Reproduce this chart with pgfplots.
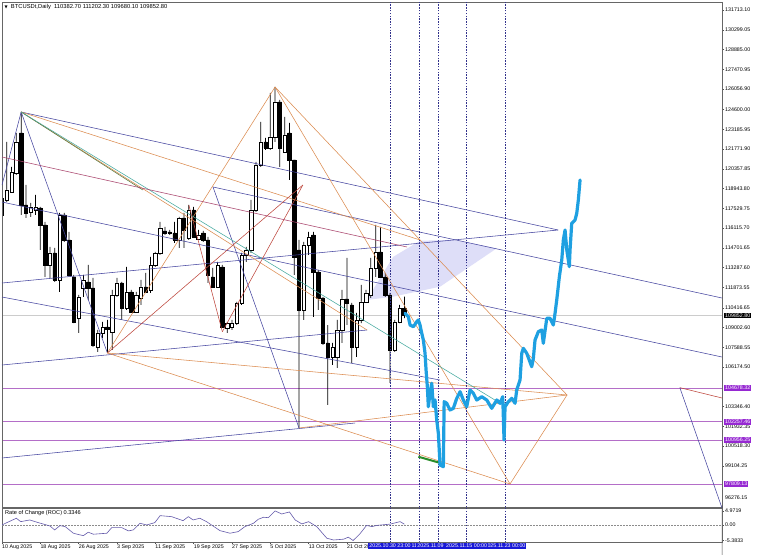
\documentclass[border=0pt]{standalone}
\usepackage{fontspec}
\setmainfont{Liberation Sans}
\newfontfamily\dejavu{DejaVu Sans}
\usepackage{pgfplots}
\usepackage{pgfplotstable}
\usetikzlibrary{calc}
\pgfplotsset{compat=1.18}

\definecolor{navyln}{RGB}{70,70,160}
\definecolor{orangeln}{RGB}{220,140,80}
\definecolor{tealln}{RGB}{70,170,160}
\definecolor{oliveln}{RGB}{90,120,60}
\definecolor{redln}{RGB}{190,70,60}
\definecolor{maroonln}{RGB}{170,70,110}
\definecolor{levelln}{RGB}{180,110,200}
\definecolor{lavfill}{RGB}{222,222,248}
\definecolor{pathblue}{RGB}{30,160,225}
\definecolor{pathgreen}{RGB}{40,140,40}
\definecolor{labelpurple}{RGB}{150,40,210}
\definecolor{boxblue}{RGB}{25,25,215}
\definecolor{rocln}{RGB}{100,90,170}
\definecolor{dashln}{RGB}{50,50,140}

\newcommand{\tickfont}{\fontsize{5.3}{6}\selectfont}

% daily candles, n = days from 10 Aug 2025
\pgfplotstableread{
n o h l c
0 117049 118480 116477 118265
1 118122 122271 117979 118837
2 118694 120482 118623 120125
3 120054 122915 119910 122271
4 122915 124417 117049 117764
5 117764 119195 116835 117192
6 117264 117908 116906 117621
7 117407 118480 117049 117621
8 117550 117621 114546 116334
9 116334 116549 112614 113473
10 113473 114760 112543 114331
11 114331 114689 112256 112400
12 112400 117192 111541 117049
13 117049 117192 115118 115261
14 115261 115833 112614 112757
15 112614 112757 109323 109395
16 109681 111326 108608 111183
17 111827 112757 111183 112400
18 112256 113473 110969 111827
19 111827 112543 107607 107750
20 107607 108823 107249 108608
21 108608 109395 108250 109037
22 109037 109538 107178 108894
23 108680 111684 107392 111326
24 111326 112543 111183 112185
25 112185 112256 109538 110397
26 110397 113330 110254 111541
27 111541 111684 110039 110111
28 110111 111541 110039 111326
29 111112 112400 110611 111899
30 111899 112900 111469 111541
31 111684 114045 111469 113473
32 113473 114402 113330 114331
33 114331 116549 114188 116120
34 115905 116191 115619 115762
35 115833 115976 115619 115762
36 115762 116549 115046 115261
37 115261 116906 114689 116835
38 116835 117192 114689 115976
39 115404 117764 115261 117407
40 117407 117621 115404 115476
41 115333 115976 115261 115619
42 115762 115905 115118 115261
43 115261 115476 112185 112757
44 112614 113258 111827 111899
45 111899 113688 111827 113473
46 113330 113473 108966 109037
47 108966 109395 108608 109323
48 109037 109538 108823 109323
49 109323 110826 109180 110754
50 110754 114331 110611 114188
51 114188 114760 113688 114546
52 114546 118122 114331 117407
53 117407 120840 117264 120626
54 120626 123701 120482 122271
55 122271 122557 121698 121842
56 121842 125776 121698 122629
57 122629 126205 122271 125132
58 125132 125275 120482 121842
59 121556 124059 121484 122772
60 122915 123630 119553 120983
61 120983 121000 112757 114045
62 114546 115261 101813 110254
63 110254 115118 109538 114903
64 114903 115833 114188 115476
65 115619 115833 109753 112972
66 112972 113115 110254 111112
67 111112 111183 107750 107893
68 107893 109180 103458 106892
69 106892 107893 106320 107607
70 106892 109538 106105 108823
71 108823 111684 107893 111040
72 111040 113973 109180 110754
73 110611 110754 106463 107607
74 107607 110039 106892 109538
75 109538 112042 109323 110826
76 110826 111684 110754 111469
77 111326 113973 111112 113258
78 113258 116334 112614 114402
79 114402 116191 112543 112614
80 112614 112900 111183 111326
81 111326 111469 105032 107392
82 107392 109538 107249 109395
83 109395 110611 109323 110397
84 110382.7 111202.3 109680.1 109852.8
}\candles

\pgfplotsset{
  chartbase/.style={scale only axis, width=720pt, height=505pt,
    xmin=0, xmax=150.3, ymin=96162, ymax=132285, enlargelimits=false},
}
\tikzset{
  thin line/.style={line width=0.55pt},
  vmark/.style={dashln, line width=0.45pt, dash pattern=on 1.4pt off 1.4pt},
}

\begin{document}
\begin{tikzpicture}
\fill[white] (-2pt,-48pt) rectangle (756pt,507pt);

% background objects
\begin{axis}[chartbase, hide axis]
\addplot[fill=lavfill, draw=none] coordinates {
  (76.14,110969) (81.63,114045) (87.27,115211) (94.15,115261)
  (103.28,114667) (91.44,111920) (81.63,111206)} -- cycle;
\addplot[black!20, line width=0.5pt] coordinates {(0,109852.8) (150.3,109852.8)};
\addplot[levelln, line width=0.8pt] coordinates {(0,104678.32) (150.3,104678.32)};
\addplot[levelln, line width=0.8pt] coordinates {(0,102257.46) (150.3,102257.46)};
\addplot[levelln, line width=0.8pt] coordinates {(0,100956.25) (150.3,100956.25)};
\addplot[levelln, line width=0.8pt] coordinates {(0,97809.13) (150.3,97809.13)};
\end{axis}

% wicks
\begin{axis}[chartbase, hide axis, ybar stacked, bar width=0.75pt]
\addplot[draw=none, fill=none] table[x=n, y=l] {\candles};
\addplot[draw=none, fill=black] table[x=n, y expr=\thisrow{h}-\thisrow{l}] {\candles};
\end{axis}

% bodies
\begin{axis}[chartbase, hide axis, ybar stacked, bar width=3.4pt]
\addplot[draw=none, fill=none] table[x=n, y expr={min(\thisrow{o},\thisrow{c})}] {\candles};
\addplot[draw=black, fill=white, line width=0.5pt] table[x=n, y expr={max(\thisrow{c}-\thisrow{o},0)}] {\candles};
\addplot[draw=black, fill=black, line width=0.5pt] table[x=n, y expr={max(\thisrow{o}-\thisrow{c},0)}] {\candles};
\end{axis}

% objects, frame and price scale
\begin{axis}[chartbase, name=main, clip mode=individual,
  axis line style={draw=black!60, line width=0.7pt},
  xtick=\empty,
  ytick pos=right, yticklabel pos=right, tick align=outside,
  major tick length=2pt, ytick style={draw=black!70, line width=0.4pt},
  yticklabel style={font=\tickfont, anchor=west, inner sep=1pt},
  ytick={131713.10,130299.05,128885.00,127470.95,126056.90,124600.00,123185.95,121771.90,120357.85,118943.80,117529.75,116115.70,114701.65,113287.60,111873.55,110416.65,109002.60,107588.55,106174.50,103346.40,101932.35,100518.30,99104.25},
  yticklabels={131713.10,130299.05,128885.00,127470.95,126056.90,124600.00,123185.95,121771.90,120357.85,118943.80,117529.75,116115.70,114701.65,113287.60,111873.55,110416.65,109002.60,107588.55,106174.50,103346.40,101932.35,100518.30,99104.25},
]
% navy lines
\addplot[navyln, thin line] coordinates {(4,124417) (116.1,115976)};
\addplot[navyln, thin line] coordinates {(0,112185) (116.1,115976)};
\addplot[navyln, thin line] coordinates {(0,117979) (150.3,106892)};
\addplot[navyln, thin line] coordinates {(44.05,119052) (150.3,111112)};
\addplot[navyln, thin line] coordinates {(0,111183) (91.4,105247)};
\addplot[navyln, thin line] coordinates {(0,99668) (73.7,102171)};
\addplot[navyln, thin line] coordinates {(0,106320) (76.2,108823)};
\addplot[navyln, thin line] coordinates {(44.05,119052) (62,101813)};
\addplot[navyln, thin line] coordinates {(4,124417) (22,107178)};
\addplot[navyln, thin line] coordinates {(4,124417) (0,119195)};
\addplot[navyln, thin line] coordinates {(141.5,104700) (150.3,96092)};
% orange lines
\addplot[orangeln, thin line] coordinates {(4,124417) (87.27,115261)};
\addplot[orangeln, thin line] coordinates {(22,107178) (57,126205)};
\addplot[orangeln, thin line] coordinates {(57,126205) (117.95,104174)};
\addplot[orangeln, thin line] coordinates {(57,126205) (106.05,97809)};
\addplot[orangeln, thin line] coordinates {(106.05,97809) (117.95,104174)};
\addplot[orangeln, thin line] coordinates {(22,107178) (117.95,104174)};
\addplot[orangeln, thin line] coordinates {(22,107178) (106.05,97809)};
\addplot[orangeln, thin line] coordinates {(62,101813) (117.95,104174)};
\addplot[orangeln, thin line] coordinates {(4,124417) (76.2,108823)};
% teal and olive
\addplot[oliveln, thin line] coordinates {(4,124417) (29.4,118837)};
\addplot[tealln, thin line] coordinates {(4,124417) (102.9,103816)};
% red / maroon
\addplot[redln, thin line] coordinates {(39,117764) (46,108700)};
\addplot[redln, thin line] coordinates {(46,108700) (62.8,119195)};
\addplot[redln, thin line] coordinates {(22,107178) (62.8,119195)};
\addplot[maroonln, thin line] coordinates {(0,121198) (84.55,114760)};
\addplot[redln, thin line] coordinates {(141.5,104700) (150.3,103959)};
% vertical markers
\pgfplotsinvokeforeach{81,87,91,97,105}{
  \addplot[vmark] coordinates {(#1,96162) (#1,132285)};
}
% projection
\addplot[pathgreen, line width=2pt] coordinates {(86.91,99760) (91.29,99332)};
\addplot[pathblue, line width=3.2pt, line join=round, line cap=round] coordinates {
(84.13,110018) (84.82,109775) (85.18,109181) (85.87,109059) (86.58,109417) (86.91,109538)
(87.27,109181) (87.47,108823) (87.95,108108) (88.31,107157) (88.52,105962) (88.79,104767)
(89.0,103337) (89.35,104295) (89.71,105013) (90.04,103337) (90.40,103816) (90.75,102385)
(91.09,101434) (91.44,99167) (92.13,99046) (92.30,103700) (92.84,103580) (93.53,103101)
(94.22,103222) (94.93,103937) (95.62,104410) (96.31,103816) (97.01,103337) (97.70,104531)
(98.39,104295) (99.10,103816) (100.15,104053) (101.19,103816) (102.23,103222) (103.28,103816)
(103.97,103580) (104.53,104053) (104.80,100955) (105.01,103337) (105.70,103695) (106.41,103937)
(107.10,103580) (107.45,104531) (108.14,105247) (108.50,107157) (108.83,107514) (109.54,107157)
(110.58,106198) (110.92,106799) (111.27,108108) (111.96,108701) (112.67,108823) (113.00,107872)
(113.72,109660) (114.41,109660) (115.09,109181) (115.45,110018) (115.80,110969) (116.35,112635)
(116.85,113830) (117.18,115261) (117.54,115976) (117.9,114546) (118.43,113352) (118.58,114545)
(118.93,116456) (119.62,116692) (119.98,117172) (120.31,118122) (120.67,119553)};
% title and price boxes
\node[anchor=west, font=\fontsize{5.8}{6.5}\selectfont, inner sep=0pt] at (rel axis cs:0,1) [xshift=2.5pt, yshift=-5pt]
  {{\dejavu\fontsize{4}{5}\selectfont ▼}\ \ BTCUSDt,Daily\ \ 110382.70 111202.30 109680.10 109852.80};
\draw[black!70, line width=0.4pt] (axis cs:150.3,96276.15) -- ++(2pt,0);
\node[anchor=west, font=\tickfont, inner sep=1pt] at (axis cs:150.3,96276.15) [xshift=2pt, yshift=8pt] {96276.15};
\node[anchor=west, font=\tickfont, inner sep=1pt, fill=black, text=white] at (axis cs:150.3,109852.8) [xshift=2pt] {109852.80};
\pgfplotsinvokeforeach{104678.32,102257.46,100956.25,97809.13}{
  \node[anchor=west, font=\tickfont, inner sep=1pt, fill=labelpurple, text=white] at (axis cs:150.3,#1) [xshift=2pt] {#1};
}
\end{axis}

% Rate of Change panel
\begin{axis}[scale only axis, width=720pt, height=34pt,
  at={(main.south west)}, anchor=north west, yshift=-1pt, name=roc,
  xmin=0, xmax=150.3, ymin=-5.9, ymax=6.0, enlargelimits=false, clip mode=individual,
  axis line style={draw=black!60, line width=0.7pt},
  tick align=outside, major tick length=2pt,
  xtick={0,8,...,72}, xtick pos=bottom,
  xticklabels={10 Aug 2025,18 Aug 2025,26 Aug 2025,3 Sep 2025,11 Sep 2025,19 Sep 2025,27 Sep 2025,5 Oct 2025,13 Oct 2025,21 Oct 2025},
  xticklabel style={font=\tickfont, anchor=north west, inner sep=1pt, xshift=-1pt},
  ytick={-5.3833,0,4.9719}, yticklabels={-5.3833,0.00,4.9719},
  ytick pos=right, yticklabel pos=right,
  yticklabel style={font=\tickfont, anchor=west, inner sep=1pt},
  tick style={draw=black!70, line width=0.4pt},
]
\addplot[black!45, line width=0.4pt, dash pattern=on 1.5pt off 1.5pt] coordinates {(0,0) (150.3,0)};
\addplot[rocln, line width=0.6pt] coordinates {
(0,0.07) (1,0.87) (3,2.41) (3.9,1.22) (5.8,1.81) (7.6,0.87) (10,-0.28) (11,-1.68) (12.1,-0.17)
(13.2,-0.52) (14.9,-2.83) (16.3,-3.42) (17,-3.66) (18,-2.48) (19.1,-3.18) (21.9,-2.83) (22.9,-0.87)
(25,-0.87) (26.4,-2.02) (27.4,-1.68) (28.8,0.66) (30.2,0.07) (31.9,0.87) (33,3.32) (35.4,2.97)
(37.8,1.57) (38.9,2.97) (39.9,1.81) (41.3,2.41) (42.7,1.22) (45.5,-1.92) (47.6,-2.83) (49.3,-2.27)
(50.7,-0.52) (52.5,0.66) (53.5,2.06) (54.6,2.76) (55.6,2.62) (57,4.97) (58.4,3.91) (60,4.61)
(61.2,1.81) (62.6,0.42) (64,1.22) (65.7,-0.52) (67.8,-4.57) (69.2,-5.2) (71.3,-4.92) (72.3,-4.22)
(73.3,-5.38) (74.7,-3.07) (76.1,-0.1) (77.2,-0.52) (78.2,-0.1) (81,0.35) (83.1,1.22) (84,0.33)};
\pgfplotsinvokeforeach{81,87,91,97,105}{
  \draw[vmark] (axis cs:#1,6.0) -- (axis cs:#1,-5.9) -- ++(0,-12pt);
}
\node[anchor=west, font=\fontsize{5.6}{6}\selectfont, inner sep=0pt] at (rel axis cs:0,1) [xshift=3pt, yshift=-5pt] {Rate of Change (ROC) 0.3346};
\node[anchor=north, font=\tickfont, inner sep=1pt, fill=boxblue, text=white] at (axis cs:87,-5.9) [yshift=-1pt] {2025.11.05 00:00};
\node[anchor=north, font=\tickfont, inner sep=1pt, fill=boxblue, text=white] at (axis cs:105,-5.9) [yshift=-1pt] {2025.11.23 00:00};
\node[anchor=north, font=\tickfont, inner sep=1pt, fill=boxblue, text=white] at (axis cs:81,-5.9) [yshift=-1pt] {2025.10.30 23:00};
\node[anchor=north, font=\tickfont, inner sep=1pt, fill=boxblue, text=white] at (axis cs:91,-5.9) [yshift=-1pt] {2025.11.09 00:00};
\node[anchor=north, font=\tickfont, inner sep=1pt, fill=boxblue, text=white] at (axis cs:97,-5.9) [yshift=-1pt] {2025.11.15 00:00};
\end{axis}
\pgfresetboundingbox
\path[use as bounding box] ($(main.south west)+(-2pt,-48pt)$) rectangle ($(main.north east)+(36pt,2pt)$);
\end{tikzpicture}
\end{document}
